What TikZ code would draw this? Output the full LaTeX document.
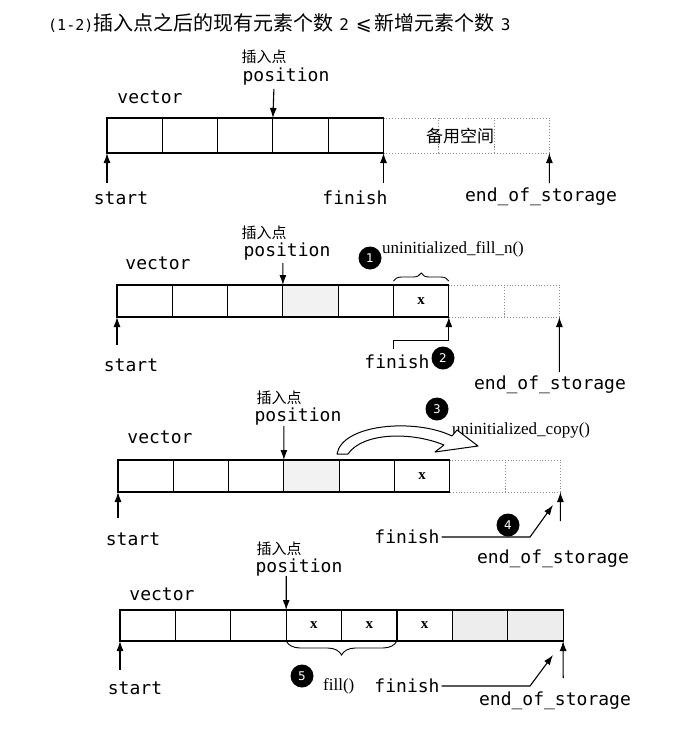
\documentclass[tikz,border=0pt]{standalone}
\usepackage{fontspec}
\setmainfont{Liberation Serif}
\newfontfamily\monof{DejaVu Sans Mono}
\newfontfamily\cjkf{Noto Sans CJK SC}
\newfontfamily\symf{DejaVu Sans}
\usetikzlibrary{arrows.meta,decorations.pathreplacing,calc}
\begin{document}
\begin{tikzpicture}[x=1pt,y=-1pt,
  cell/.style={draw, line width=1.1pt, minimum width=55.3pt, minimum height=32pt, inner sep=0pt, outer sep=0pt, anchor=north west},
  spare/.style={draw=black!45, dotted, line width=0.9pt, minimum width=55.3pt, minimum height=32pt, inner sep=0pt, outer sep=0pt, anchor=north west},
  ptr/.style={-{Latex[length=10pt,width=7pt]}, line width=1.1pt},
  thin/.style={line width=0.9pt},
  mono/.style={font=\monof\fontsize{18}{20}\selectfont, inner sep=0pt},
  cn/.style={font=\cjkf\fontsize{15}{17}\selectfont, inner sep=0pt},
  fn/.style={font=\fontsize{17}{19}\selectfont, inner sep=0pt, anchor=west},
  xv/.style={font=\bfseries\fontsize{15}{16}\selectfont, inner sep=0pt},
  num/.style={circle, fill=black, text=white, minimum size=23pt, inner sep=0pt, font=\symf\fontsize{12}{12}\selectfont},
  brc/.style={decorate, decoration={brace, amplitude=8pt}, line width=0.9pt}
]
\useasboundingbox[fill=white] (0,0) rectangle (688,734);

% title
\node[inner sep=0pt, anchor=west] (title) at (48,23) {{\monof\fontsize{15}{16}\selectfont(1-2)}{\cjkf\fontsize{20}{22}\selectfont 插入点之后的现有元素个数}\hspace{6pt}{\monof\fontsize{16}{16}\selectfont 2}\hspace{7pt}{\symf\fontsize{19}{20}\selectfont ⩽}\hspace{3pt}{\cjkf\fontsize{20}{22}\selectfont 新增元素个数}\hspace{6pt}{\monof\fontsize{16}{16}\selectfont 3}};

%================ Panel 1
\foreach \i in {5,6,7} \node[spare, minimum height=35pt] (pa\i) at ({107+55.3*\i},118) {};
\foreach \i in {0,...,4} \node[cell, minimum height=35pt] (pa\i) at ({107+55.3*\i},118) {};
\node[font=\cjkf\fontsize{17}{19}\selectfont, inner sep=0pt] (spA) at (460,136) {备用空间};
\node[cn] (insA) at (264,57) {插入点};
\node[mono] (posA) at (286,77) {position};
\node[mono] (vecA) at (150,97) {vector};
\node[mono] (stA) at (121,198) {start};
\node[mono] (fiA) at (355,198) {finish};
\node[mono] (eoA) at (541,197) {end\_of\_storage};
\coordinate (pA) at (273.9,89);
\coordinate (sA) at (107,183);
\coordinate (fA) at (383.5,183);
\coordinate (eA) at (549.4,183);
\draw[ptr] (pA) -- (pa3.north west);
\draw[ptr] (sA) -- (pa0.south west);
\draw[ptr] (fA) -- (pa4.south east);
\draw[ptr] (eA) -- (pa7.south east);

%================ Panel 2
\foreach \i in {6,7} \node[spare] (pb\i) at ({117+55.3*\i},285) {};
\foreach \i in {0,1,2,4,5} \node[cell] (pb\i) at ({117+55.3*\i},285) {};
\node[cell, fill=black!5] (pb3) at ({117+55.3*3},285) {};
\node[xv] (xB) at (pb5.center) {x};
\node[cn] (insB) at (264,233) {插入点};
\node[mono] (posB) at (287,252) {position};
\node[mono] (vecB) at (158,263) {vector};
\node[num] (n1) at (370,258) {1};
\node[fn] (ufn) at (382,249) {uninitialized\_fill\_n()};
\draw[brc] ($(pb5.north west)+(0,-4)$) -- ($(pb5.north east)+(0,-4)$);
\node[mono] (stB) at (131,365) {start};
\node[mono] (fiB) at (397,362) {finish};
\node[num] (n2) at (443,358) {2};
\node[mono] (eoB) at (550,385) {end\_of\_storage};
\coordinate (pB) at (282.9,263);
\coordinate (sB) at (117,345);
\coordinate (fb1) at (393.5,349);
\coordinate (fb2) at (393.5,340);
\coordinate (fb3) at (448.8,340);
\coordinate (eB) at (559.4,372);
\draw[ptr] (pB) -- (pb3.north west);
\draw[ptr] (sB) -- (pb0.south west);
\draw[thin] (fb1) -- (fb2) -- (fb3);
\draw[ptr] (fb3) -- (pb5.south east);
\draw[ptr] (eB) -- (pb7.south east);

%================ Panel 3
\foreach \i in {6,7} \node[spare] (pc\i) at ({118+55.3*\i},460) {};
\foreach \i in {0,1,2,4,5} \node[cell] (pc\i) at ({118+55.3*\i},460) {};
\node[cell, fill=black!5] (pc3) at ({118+55.3*3},460) {};
\node[xv] (xC) at (pc5.center) {x};
\node[cn] (insC) at (279,398) {插入点};
\node[mono] (posC) at (298,417) {position};
\node[mono] (vecC) at (160,437) {vector};
\node[num] (n3) at (437,409) {3};
\node[fn] (ucp) at (452,430) {uninitialized\_copy()};
% curved block arrow
\draw[line width=1pt, fill=white, line join=round]
  (337,454) .. controls (342,424) and (415,418) .. (452,436)
  -- (457,430) -- (478,446) -- (435,452) -- (444,445)
  .. controls (410,431) and (362,433) .. (348,454) -- cycle;
\node[mono] (stC) at (133,539) {start};
\node[mono] (fiC) at (407,537) {finish};
\node[num] (n4) at (508,525) {4};
\node[mono] (eoC) at (553,559) {end\_of\_storage};
\coordinate (pC) at (283.9,426);
\coordinate (sC) at (118,518);
\coordinate (fc1) at (530,537);
\coordinate (fc2) at (553,505);
\coordinate (eC) at (560.4,521);
\draw[ptr] (pC) -- (pc3.north west);
\draw[ptr] (sC) -- (pc0.south west);
\draw[ptr] ([xshift=2pt]fiC.east) -- (fc1) -- (fc2);
\draw[ptr] (eC) -- (pc7.south east);

%================ Panel 4
\foreach \i in {0,...,5} \node[cell, minimum height=31pt] (pd\i) at ({120+55.4*\i},610) {};
\foreach \i in {6,7} \node[cell, minimum height=31pt, fill=black!7] (pd\i) at ({120+55.4*\i},610) {};
\node[xv] (xD1) at (pd3.center) {x};
\node[xv] (xD2) at (pd4.center) {x};
\node[xv] (xD3) at (pd5.center) {x};
\node[cn] (insD) at (279,549) {插入点};
\node[mono] (posD) at (299,568) {position};
\node[mono] (vecD) at (162,594) {vector};
\draw[decorate, decoration={brace, amplitude=14pt}, line width=0.9pt] (pd4.south east) -- (pd3.south west);
\node[num] (n5) at (302,676) {5};
\node[fn] (ufl) at (323,686) {fill()};
\node[mono] (stD) at (135,688) {start};
\node[mono] (fiD) at (407,686) {finish};
\node[mono] (eoD) at (555,701) {end\_of\_storage};
\coordinate (pD) at (286.2,576);
\coordinate (sD) at (120,670);
\coordinate (fd1) at (530,686);
\coordinate (fd2) at (553,655);
\coordinate (eD) at (563.2,678);
\draw[ptr] (pD) -- (pd3.north west);
\draw[ptr] (sD) -- (pd0.south west);
\draw[ptr] ([xshift=2pt]fiD.east) -- (fd1) -- (fd2);
\draw[ptr] (eD) -- (pd7.south east);
\end{tikzpicture}
\end{document}
